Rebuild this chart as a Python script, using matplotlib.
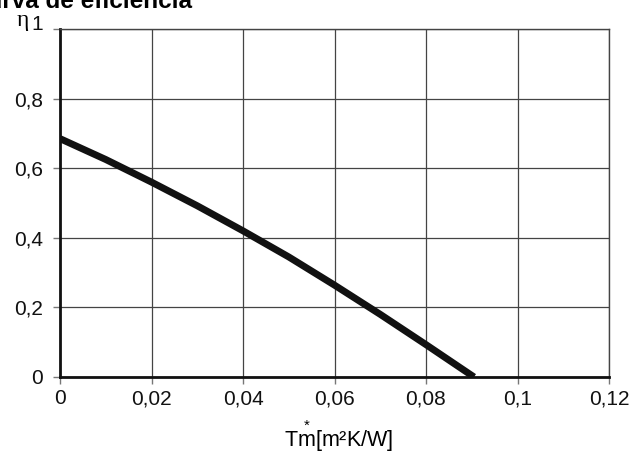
"""Curva de eficiencia - rendimiento del captador frente a Tm*."""
import matplotlib
matplotlib.use("Agg")
import matplotlib.pyplot as plt
import matplotlib.transforms as mtrans

plt.rcParams["font.family"] = ["Liberation Sans", "DejaVu Sans"]
plt.rcParams["mathtext.fontset"] = "custom"
plt.rcParams["mathtext.rm"] = "Liberation Sans"
plt.rcParams["mathtext.it"] = "Liberation Sans"

# --- datos ---
tm = [0.0, 0.01, 0.02, 0.03, 0.04, 0.05, 0.06, 0.07, 0.08, 0.0905]
eta = [0.685, 0.625, 0.56, 0.492, 0.42, 0.345, 0.264, 0.18, 0.093, 0.0]

x_ticks = [0, 0.02, 0.04, 0.06, 0.08, 0.1, 0.12]
x_labels = ["0", "0,02", "0,04", "0,06", "0,08", "0,1", "0,12"]
y_ticks = [0, 0.2, 0.4, 0.6, 0.8, 1.0]
y_labels = ["0", "0,2", "0,4", "0,6", "0,8", "1"]

W, H = 630, 453
fig = plt.figure(figsize=(W / 100, H / 100), dpi=100)
ax = fig.add_axes([60 / W, 1 - 377 / H, (609 - 60) / W, (377 - 29) / H])

GRID = "#444444"
ax.plot(tm, eta, color="#111111", lw=5, solid_capstyle="butt", zorder=3)

ax.set_xlim(0, 0.12)
ax.set_ylim(0, 1)
ax.set_xticks(x_ticks)
ax.set_xticklabels(x_labels)
ax.set_yticks(y_ticks)
ax.set_yticklabels(y_labels)
ax.tick_params(labelsize=15, length=5, width=1, color="#777777",
               labelcolor="#111111")
ax.tick_params(axis="y", pad=7)
ax.tick_params(axis="x", pad=4)
ax.grid(True, color=GRID, lw=0.9)
ax.set_axisbelow(True)

# el "1" del eje y va un poco por encima de su linea
top_lbl = ax.get_yticklabels()[-1]
top_lbl.set_transform(top_lbl.get_transform()
                      + mtrans.ScaledTranslation(0, 7 / 100, fig.dpi_scale_trans))

for side in ("top", "right"):
    ax.spines[side].set_color(GRID)
    ax.spines[side].set_linewidth(1.0)
for side in ("left", "bottom"):
    ax.spines[side].set_color("#111111")
    ax.spines[side].set_linewidth(2.0)

# etiqueta del eje x (asterisco sobre la m)
fig.text(339 / W, 1 - 447 / H, r"T$\overset{*}{\mathrm{m}}$[m²K/W]",
         fontsize=15.5, ha="center", va="baseline")

# etiqueta eta y titulo recortado
fig.text(23 / W, 1 - 26 / H, "η", fontsize=17, family="Liberation Serif",
         ha="center", va="baseline")
fig.text(192 / W, 1 - 8 / H, "Curva de eficiencia", fontsize=17.5,
         fontweight="bold", ha="right", va="baseline")

fig.savefig("out.png", dpi=100, facecolor="white")
